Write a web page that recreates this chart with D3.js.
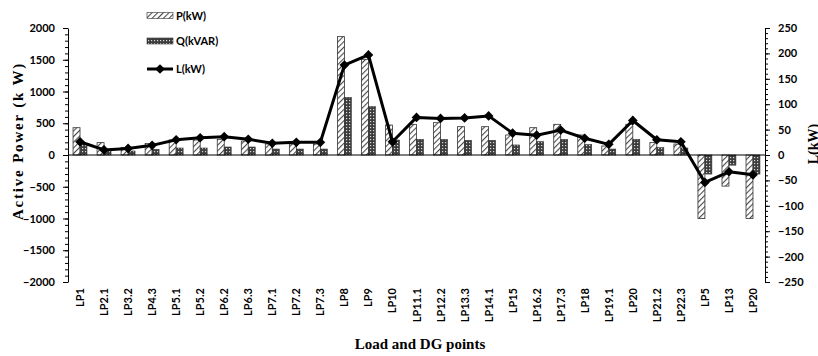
<!DOCTYPE html>
<html lang="en">
<head>
  <meta charset="UTF-8" />
  <title>Load and DG points</title>
  <script src="https://d3js.org/d3.v7.min.js"></script>
  <style>
    body { margin: 0; background: #fff; }
    svg { display: block; }
    .tick text, .cat-label { font-family: Lato, "Open Sans", sans-serif; font-weight: 700; font-size: 11px; fill: #000; }
    .title { font-family: "Liberation Serif", "Times New Roman", serif; font-weight: 700; fill: #000; }
  </style>
</head>
<body>
  <script>
    // data
    const categories = ['LP1', 'LP2.1', 'LP3.2', 'LP4.3', 'LP5.1', 'LP5.2', 'LP6.2', 'LP6.3', 'LP7.1', 'LP7.2', 'LP7.3',
      'LP8', 'LP9', 'LP10', 'LP11.1', 'LP12.2', 'LP13.3', 'LP14.1', 'LP15', 'LP16.2', 'LP17.3', 'LP18', 'LP19.1',
      'LP20', 'LP21.2', 'LP22.3', 'LP5', 'LP13', 'LP20'];
    const pValues = [430, 195, 120, 180, 236, 236, 247, 220, 173, 173, 173, 1864, 1507, 472, 483, 509, 446, 446,
      315, 430, 483, 315, 142, 483, 195, 173, -1000, -490, -1000];
    const qValues = [175, 80, 63, 90, 110, 110, 126, 126, 94, 94, 94, 908, 761, 236, 247, 247, 231, 231,
      158, 210, 247, 163, 94, 247, 115, 110, -300, -160, -300];
    const lValues = [26, 10, 13, 19, 30, 34, 36, 31, 23, 25, 25, 177, 197, 26, 74, 72, 73, 77,
      43, 39, 49, 33, 21, 68, 30, 26, -54, -33, -39];
    const leftTicks = [-2000, -1500, -1000, -500, 0, 500, 1000, 1500, 2000];
    const rightTicks = [-250, -200, -150, -100, -50, 0, 50, 100, 150, 200, 250];

    const W = 818, H = 356;
    const plot = { left: 68, right: 765, top: 28, bottom: 282 };

    const svg = d3.select('body').append('svg')
      .attr('width', W)
      .attr('height', H);

    // patterns for the bars
    const defs = svg.append('defs');
    const hatch = defs.append('pattern')
      .attr('id', 'hatch')
      .attr('patternUnits', 'userSpaceOnUse')
      .attr('width', 4).attr('height', 4)
      .attr('patternTransform', 'rotate(45)');
    hatch.append('rect').attr('width', 4).attr('height', 4).attr('fill', '#fff');
    hatch.append('line').attr('x1', 0).attr('y1', 0).attr('x2', 0).attr('y2', 4)
      .attr('stroke', '#4a4a4a').attr('stroke-width', 2.2);

    const dots = defs.append('pattern')
      .attr('id', 'dots')
      .attr('patternUnits', 'userSpaceOnUse')
      .attr('width', 3).attr('height', 3);
    dots.append('rect').attr('width', 3).attr('height', 3).attr('fill', '#3c3c3c');
    dots.append('rect').attr('x', 1).attr('y', 1).attr('width', 1.2).attr('height', 1.2).attr('fill', '#d8d8d8');

    // scales
    const idx = d3.range(categories.length);
    const x = d3.scaleBand()
      .domain(idx)
      .range([plot.left, plot.right])
      .paddingInner(0.42)
      .paddingOuter(0.21);
    const xSub = d3.scaleBand()
      .domain(['P', 'Q'])
      .range([0, x.bandwidth()]);
    const yLeft = d3.scaleLinear().domain([-2000, 2000]).range([plot.bottom, plot.top]);
    const yRight = d3.scaleLinear().domain([-250, 250]).range([plot.bottom, plot.top]);
    const fmt = d3.format('d');

    // axes
    const leftMinor = svg.append('g')
      .attr('transform', `translate(${plot.left},0)`)
      .call(d3.axisLeft(yLeft).tickValues(d3.range(-2000, 2001, 100)).tickSize(3).tickFormat(''));
    leftMinor.select('.domain').remove();
    svg.append('g')
      .attr('transform', `translate(${plot.left},0)`)
      .call(d3.axisLeft(yLeft).tickValues(leftTicks).tickFormat(fmt).tickSize(5).tickPadding(8).tickSizeOuter(0));

    const rightMinor = svg.append('g')
      .attr('transform', `translate(${plot.right},0)`)
      .call(d3.axisRight(yRight).tickValues(d3.range(-250, 251, 10)).tickSize(3).tickFormat(''));
    rightMinor.select('.domain').remove();
    svg.append('g')
      .attr('transform', `translate(${plot.right},0)`)
      .call(d3.axisRight(yRight).tickValues(rightTicks).tickFormat(fmt).tickSize(5).tickPadding(8).tickSizeOuter(0));

    svg.selectAll('.domain, .tick line').attr('stroke', '#000').attr('stroke-width', 1);

    // category labels, turned so they do not run into each other
    svg.append('g').selectAll('text')
      .data(idx)
      .join('text')
      .attr('class', 'cat-label')
      .attr('text-anchor', 'end')
      .attr('transform', i => `translate(${x(i) + x.bandwidth() / 2 + 4},${plot.bottom + 6}) rotate(-90)`)
      .text(i => categories[i]);

    // bars
    const bars = svg.append('g');
    bars.selectAll('.p-bar')
      .data(idx)
      .join('rect')
      .attr('class', 'p-bar')
      .attr('x', i => x(i) + xSub('P'))
      .attr('y', i => yLeft(Math.max(0, pValues[i])))
      .attr('width', xSub.bandwidth())
      .attr('height', i => Math.abs(yLeft(pValues[i]) - yLeft(0)))
      .attr('fill', 'url(#hatch)')
      .attr('stroke', '#333')
      .attr('stroke-width', 0.8);
    bars.selectAll('.q-bar')
      .data(idx)
      .join('rect')
      .attr('class', 'q-bar')
      .attr('x', i => x(i) + xSub('Q'))
      .attr('y', i => yLeft(Math.max(0, qValues[i])))
      .attr('width', xSub.bandwidth())
      .attr('height', i => Math.abs(yLeft(qValues[i]) - yLeft(0)))
      .attr('fill', 'url(#dots)')
      .attr('stroke', '#333')
      .attr('stroke-width', 0.6);

    // zero line
    svg.append('line')
      .attr('x1', plot.left).attr('x2', plot.right)
      .attr('y1', yLeft(0)).attr('y2', yLeft(0))
      .attr('stroke', '#000').attr('stroke-width', 1);

    // L line on the right axis
    const cx = i => x(i) + x.bandwidth() / 2;
    const line = d3.line().x(i => cx(i)).y(i => yRight(lValues[i]));
    svg.append('path')
      .datum(idx)
      .attr('d', line)
      .attr('fill', 'none')
      .attr('stroke', '#000')
      .attr('stroke-width', 3)
      .attr('stroke-linejoin', 'round');
    const diamond = d3.symbol().type(d3.symbolDiamond2).size(60);
    svg.selectAll('.marker')
      .data(idx)
      .join('path')
      .attr('class', 'marker')
      .attr('d', diamond)
      .attr('transform', i => `translate(${cx(i)},${yRight(lValues[i])})`)
      .attr('fill', '#000');

    // legend
    const legend = svg.append('g').attr('transform', 'translate(147,0)');
    legend.append('rect').attr('x', 0).attr('y', 12.5).attr('width', 26).attr('height', 6)
      .attr('fill', 'url(#hatch)').attr('stroke', '#333').attr('stroke-width', 0.6);
    legend.append('rect').attr('x', 0).attr('y', 38).attr('width', 26).attr('height', 6)
      .attr('fill', 'url(#dots)').attr('stroke', '#333').attr('stroke-width', 0.6);
    legend.append('line').attr('x1', 0).attr('x2', 26).attr('y1', 69).attr('y2', 69)
      .attr('stroke', '#000').attr('stroke-width', 3);
    legend.append('path').attr('d', diamond).attr('transform', 'translate(13,69)').attr('fill', '#000');
    [['P(kW)', 16], ['Q(kVAR)', 41.5], ['L(kW)', 69]].forEach(([t, y]) => {
      legend.append('text')
        .attr('x', 29).attr('y', y).attr('dy', '0.35em')
        .style('font-family', 'Lato, "Open Sans", sans-serif')
        .style('font-weight', 700).style('font-size', '11px')
        .text(t);
    });

    // axis titles
    svg.append('text')
      .attr('class', 'title')
      .attr('transform', 'translate(23,141) rotate(-90)')
      .attr('text-anchor', 'middle')
      .style('font-size', '15px')
      .style('letter-spacing', '1.8px')
      .text('Active Power (k W)');
    svg.append('text')
      .attr('class', 'title')
      .attr('transform', 'translate(818,144) rotate(-90)')
      .attr('text-anchor', 'middle')
      .style('font-size', '14px')
      .text('L(kW)');
    svg.append('text')
      .attr('class', 'title')
      .attr('x', 420).attr('y', 349)
      .attr('text-anchor', 'middle')
      .style('font-size', '15px')
      .text('Load and DG points');
  </script>
</body>
</html>
